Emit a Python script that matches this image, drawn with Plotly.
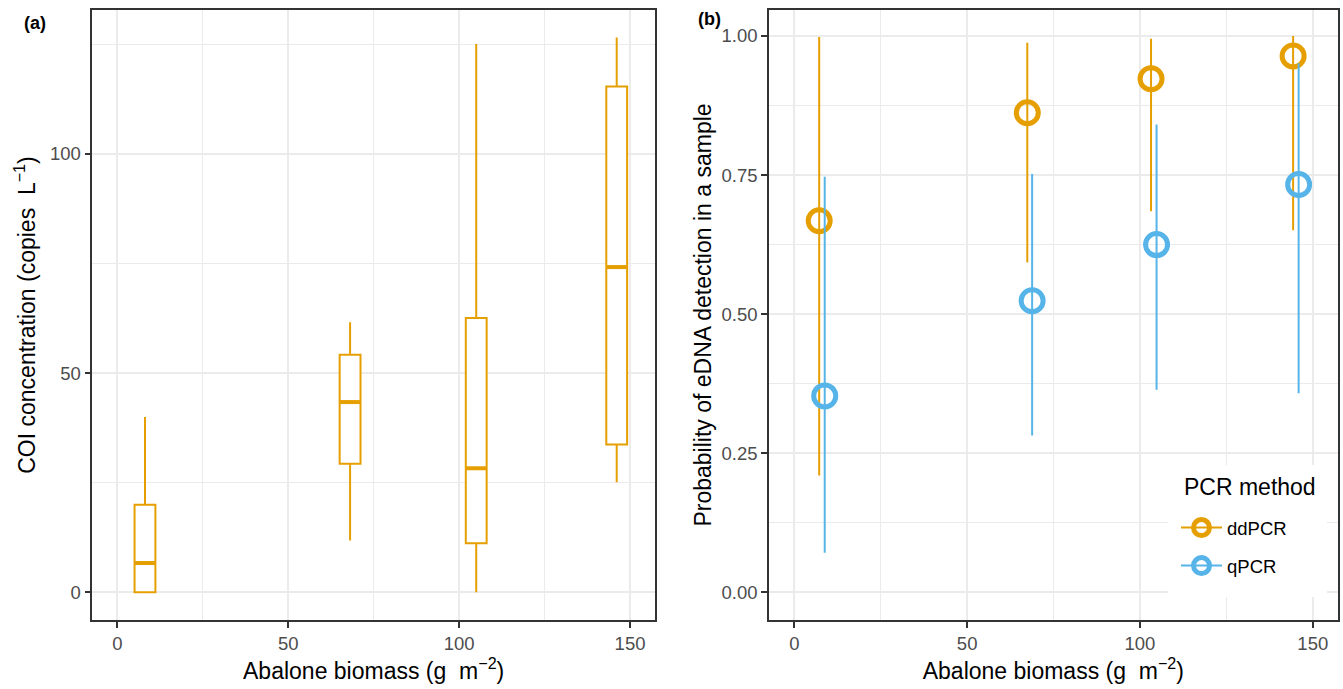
import plotly.graph_objects as go

# ---------------- data ----------------
# Panel (a): COI concentration box summaries by abalone biomass
box_biomass = [8.1, 68.1, 105.0, 146.1]
box_lower = [0.0, 11.8, 0.0, 25.1]
box_q1 = [0.0, 29.3, 11.2, 33.7]
box_median = [6.7, 43.4, 28.3, 74.2]
box_q3 = [20.0, 54.2, 62.6, 115.4]
box_upper = [40.0, 61.6, 125.1, 126.6]

# Panel (b): probability of eDNA detection (point + interval)
dd_biomass = [7.2, 67.4, 103.2, 144.3]
dd_prob = [0.668, 0.862, 0.923, 0.964]
dd_low = [0.210, 0.593, 0.685, 0.651]
dd_high = [0.998, 0.988, 0.995, 1.000]

q_biomass = [8.8, 68.8, 104.8, 145.9]
q_prob = [0.353, 0.524, 0.625, 0.733]
q_low = [0.071, 0.282, 0.364, 0.358]
q_high = [0.747, 0.752, 0.841, 0.951]

series_names = ["ddPCR", "qPCR"]
ORANGE = "#E69F00"
BLUE = "#56B4E9"

FONT = "Liberation Sans, Arial, Helvetica, sans-serif"
W, H = 1343, 689

fig = go.Figure()

# ---------------- panel (a) ----------------
BOX_W = 6.1
fig.add_trace(go.Box(
    x=box_biomass, q1=box_q1, median=box_median, q3=box_q3,
    lowerfence=box_lower, upperfence=box_upper,
    width=BOX_W, whiskerwidth=0, boxpoints=False,
    line=dict(color=ORANGE, width=2), fillcolor="white",
    showlegend=False, xaxis="x", yaxis="y", hoverinfo="skip",
))
# thicker median bars (ggplot fatten)
med_x, med_y = [], []
for bx, m in zip(box_biomass, box_median):
    med_x += [bx - BOX_W / 2, bx + BOX_W / 2, None]
    med_y += [m, m, None]
fig.add_trace(go.Scatter(
    x=med_x, y=med_y, mode="lines", line=dict(color=ORANGE, width=4),
    showlegend=False, xaxis="x", yaxis="y", hoverinfo="skip",
))

# ---------------- panel (b) ----------------
for name, xs, p, lo, hi, col in [
    (series_names[0], dd_biomass, dd_prob, dd_low, dd_high, ORANGE),
    (series_names[1], q_biomass, q_prob, q_low, q_high, BLUE),
]:
    fig.add_trace(go.Scatter(
        x=xs, y=p, mode="markers",
        marker=dict(symbol="circle-open", size=22, color=col,
                    line=dict(width=5, color=col)),
        error_y=dict(type="data", symmetric=False,
                     array=[h - v for h, v in zip(hi, p)],
                     arrayminus=[v - l for v, l in zip(p, lo)],
                     color=col, thickness=2, width=0),
        showlegend=False, xaxis="x2", yaxis="y2", hoverinfo="skip",
    ))
    # legend key
    fig.add_trace(go.Scatter(
        x=[None], y=[None], mode="lines+markers", name=name,
        legendgroup=name,
        marker=dict(symbol="circle-open", size=22, color=col,
                    line=dict(width=5, color=col)),
        line=dict(color=col, width=2),
        xaxis="x2", yaxis="y2",
    ))

# ---------------- axes ----------------
def px_x(p):
    return p / W

def px_y(p):
    return 1 - p / H

axis_common = dict(
    showline=True, mirror=True, linecolor="#333333", linewidth=1.6,
    ticks="outside", ticklen=6, tickwidth=1.6, tickcolor="#333333",
    tickfont=dict(family=FONT, size=18.5, color="#4D4D4D"),
    showgrid=True, gridcolor="#EBEBEB", gridwidth=2,
    zeroline=False,
    title_font=dict(family=FONT, size=23, color="black"),
)

xtitle = "Abalone biomass (g  m<sup>−2</sup>)"

fig.update_layout(
    width=W, height=H,
    margin=dict(l=0, r=0, t=0, b=0),
    paper_bgcolor="white", plot_bgcolor="white",
    font=dict(family=FONT, color="black"),
    xaxis=dict(axis_common, domain=[px_x(92.3), px_x(655)], anchor="y",
               range=[-7.31, 157.3], tickvals=[0, 50, 100, 150],
               minor=dict(tickvals=[25, 75, 125], showgrid=True,
                          gridcolor="#EBEBEB", gridwidth=1, ticks=""),
               title=dict(text=xtitle, standoff=8)),
    yaxis=dict(axis_common, domain=[px_y(620), px_y(10)], anchor="x",
               range=[-6.32, 132.85], tickvals=[0, 50, 100],
               minor=dict(tickvals=[25, 75, 125], showgrid=True,
                          gridcolor="#EBEBEB", gridwidth=1, ticks=""),
               title=dict(text="COI concentration (copies  L<sup>−1</sup>)", standoff=8)),
    xaxis2=dict(axis_common, domain=[px_x(769), px_x(1337.7)], anchor="y2",
                range=[-7.32, 157.2], tickvals=[0, 50, 100, 150],
                minor=dict(tickvals=[25, 75, 125], showgrid=True,
                           gridcolor="#EBEBEB", gridwidth=1, ticks=""),
                title=dict(text=xtitle, standoff=8)),
    yaxis2=dict(axis_common, domain=[px_y(620), px_y(10)], anchor="x2",
                range=[-0.0498, 1.0467], tickvals=[0, 0.25, 0.5, 0.75, 1.0],
                tickformat=".2f",
                minor=dict(tickvals=[0.125, 0.375, 0.625, 0.875], showgrid=True,
                           gridcolor="#EBEBEB", gridwidth=1, ticks=""),
                title=dict(text="Probability of eDNA detection in a sample", standoff=3)),
    legend=dict(
        x=px_x(1176), y=px_y(509), xanchor="left", yanchor="top",
        bgcolor="rgba(0,0,0,0)", borderwidth=0,
        font=dict(family=FONT, size=18.5, color="black"),
        itemwidth=41, traceorder="grouped", tracegroupgap=11,
    ),
    shapes=[
        # legend background box (hides grid lines behind the legend)
        dict(type="rect", xref="paper", yref="paper",
             x0=px_x(1168), x1=px_x(1327), y0=px_y(597), y1=px_y(465),
             fillcolor="white", line=dict(width=0), layer="above"),
    ],
    annotations=[
        dict(text="<b>(a)</b>", x=px_x(22), y=px_y(22.5), xref="paper", yref="paper",
             xanchor="left", yanchor="middle", showarrow=False,
             font=dict(family=FONT, size=18, color="black")),
        dict(text="<b>(b)</b>", x=px_x(696), y=px_y(18.7), xref="paper", yref="paper",
             xanchor="left", yanchor="middle", showarrow=False,
             font=dict(family=FONT, size=18, color="black")),
        dict(text="PCR method", x=px_x(1182), y=px_y(487), xref="paper", yref="paper",
             xanchor="left", yanchor="middle", showarrow=False,
             font=dict(family=FONT, size=23, color="black")),
    ],
)

fig.write_html(
    "out.html",
    config={"displayModeBar": False},
    post_script="document.body.style.margin='0px';document.body.style.padding='0px';",
)
